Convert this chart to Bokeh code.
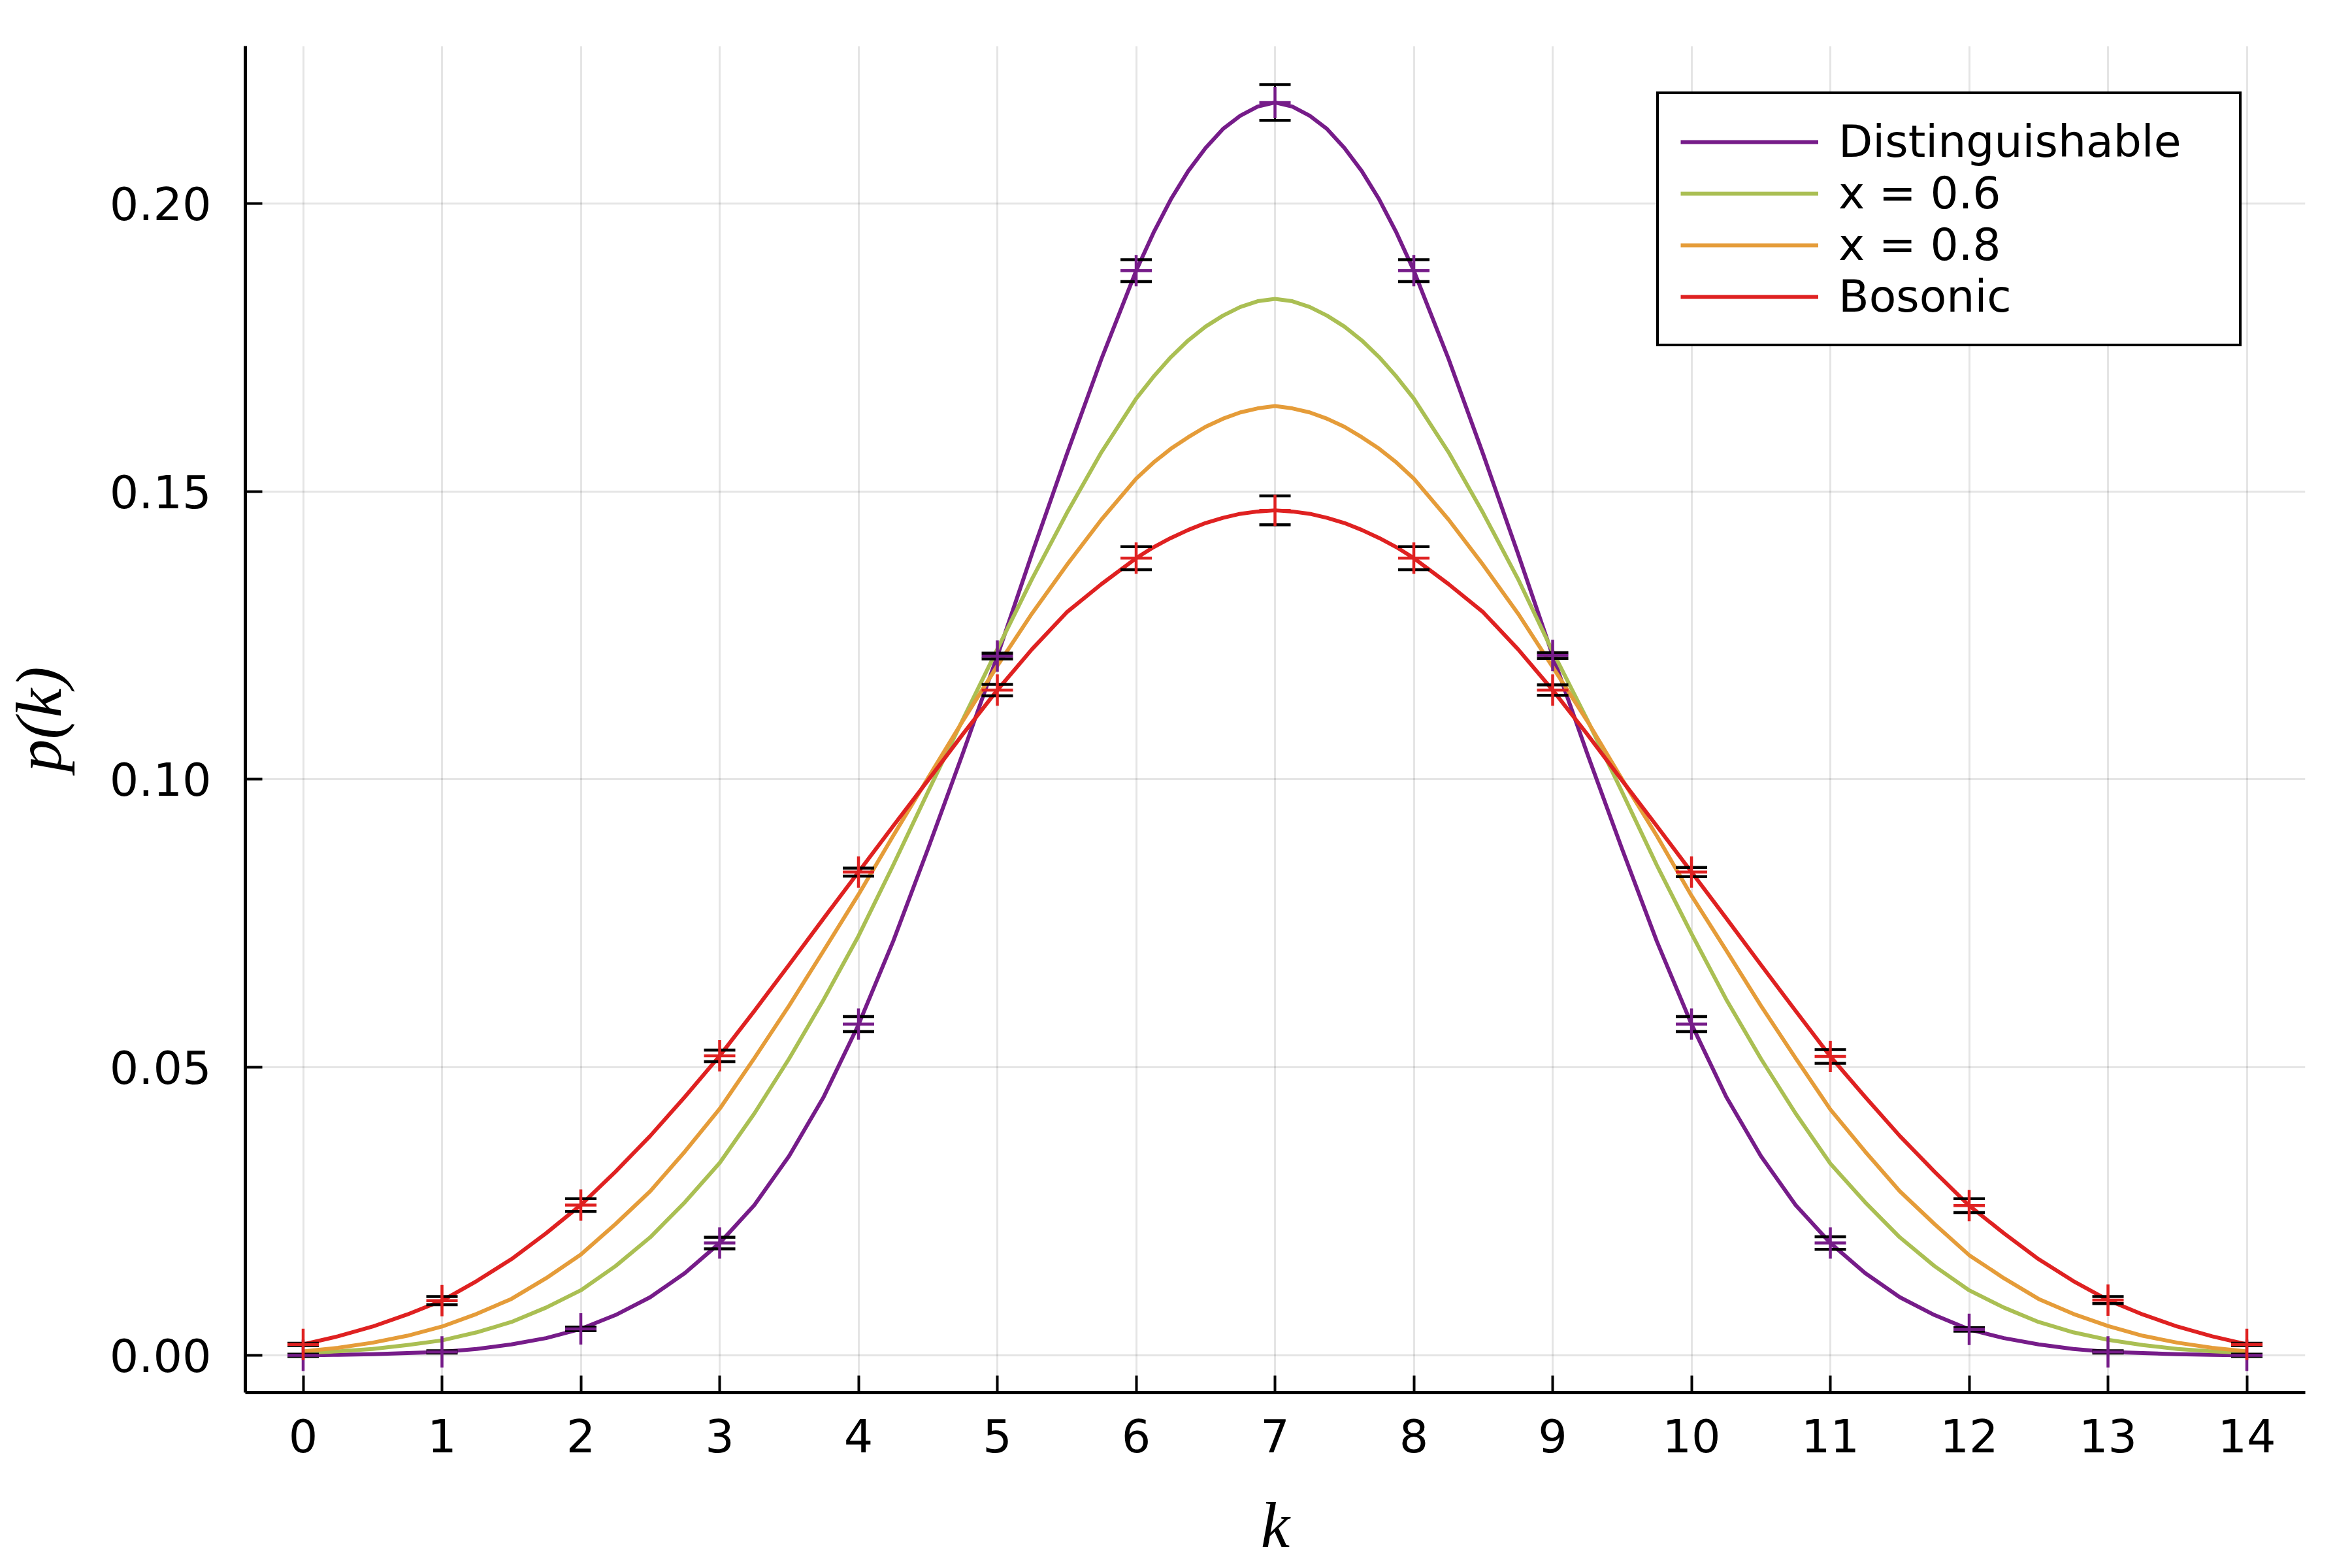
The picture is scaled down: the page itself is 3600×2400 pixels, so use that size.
from bokeh.plotting import figure
from bokeh.models import Range1d, FixedTicker, NumeralTickFormatter, Legend, LegendItem
from bokeh.embed import file_html
from bokeh.resources import INLINE

# ---- data ----
k_data = [0, 1, 2, 3, 4, 5, 6, 7, 8, 9, 10, 11, 12, 13, 14]
dist_vals = [0.0000, 0.0006, 0.0046, 0.0195, 0.0575, 0.1214, 0.1883, 0.2175,
             0.1883, 0.1215, 0.0575, 0.0195, 0.0045, 0.0006, 0.0000]
dist_err = [0.0002, 0.0002, 0.0003, 0.0010, 0.0013, 0.0005, 0.0019, 0.0031,
            0.0019, 0.0005, 0.0013, 0.0011, 0.0003, 0.0002, 0.0002]
bos_vals = [0.0019, 0.0095, 0.0261, 0.0520, 0.0839, 0.1155, 0.1384, 0.1467,
            0.1384, 0.1155, 0.0839, 0.0519, 0.0260, 0.0096, 0.0019]
bos_err = [0.0002, 0.0007, 0.0011, 0.0010, 0.0007, 0.0010, 0.0020, 0.0025,
           0.0020, 0.0009, 0.0008, 0.0012, 0.0012, 0.0006, 0.0002]

k_curve = [0.0, 0.25, 0.5, 0.75, 1.0, 1.25, 1.5, 1.75, 2.0, 2.25, 2.5, 2.75, 3.0,
           3.25, 3.5, 3.75, 4.0, 4.25, 4.5, 4.75, 5.0, 5.25, 5.5, 5.75,
           6.0, 6.125, 6.25, 6.375, 6.5, 6.625, 6.75, 6.875, 7.0,
           7.125, 7.25, 7.375, 7.5, 7.625, 7.75, 7.875, 8.0,
           8.25, 8.5, 8.75, 9.0, 9.25, 9.5, 9.75, 10.0, 10.25, 10.5, 10.75, 11.0,
           11.25, 11.5, 11.75, 12.0, 12.25, 12.5, 12.75, 13.0, 13.25, 13.5, 13.75, 14.0]
curve_dist = [0.0000, 0.0001, 0.0002, 0.0004, 0.0006, 0.0011, 0.0019, 0.0030, 0.0046,
              0.0070, 0.0101, 0.0143, 0.0195, 0.0261, 0.0346, 0.0449, 0.0574, 0.0719,
              0.0879, 0.1044, 0.1214, 0.1392, 0.1564, 0.1730,
              0.1883, 0.1949, 0.2007, 0.2056, 0.2096, 0.2129, 0.2152, 0.2168, 0.2175,
              0.2168, 0.2152, 0.2129, 0.2096, 0.2056, 0.2007, 0.1949, 0.1883,
              0.1730, 0.1564, 0.1392, 0.1215, 0.1044, 0.0879, 0.0719, 0.0575, 0.0449,
              0.0346, 0.0261, 0.0195, 0.0143, 0.0101, 0.0070, 0.0045, 0.0030, 0.0019,
              0.0011, 0.0006, 0.0004, 0.0002, 0.0001, 0.0000]
curve_x06 = [0.0004, 0.0007, 0.0011, 0.0018, 0.0026, 0.0040, 0.0058, 0.0083, 0.0113,
             0.0155, 0.0205, 0.0266, 0.0334, 0.0420, 0.0515, 0.0618, 0.0728, 0.0851,
             0.0978, 0.1103, 0.1226, 0.1348, 0.1462, 0.1568,
             0.1661, 0.1699, 0.1733, 0.1762, 0.1786, 0.1805, 0.1820, 0.1830, 0.1834,
             0.1830, 0.1820, 0.1805, 0.1786, 0.1762, 0.1733, 0.1699, 0.1661,
             0.1568, 0.1462, 0.1348, 0.1222, 0.1103, 0.0978, 0.0851, 0.0732, 0.0618,
             0.0515, 0.0420, 0.0333, 0.0266, 0.0205, 0.0155, 0.0113, 0.0083, 0.0058,
             0.0040, 0.0027, 0.0018, 0.0011, 0.0007, 0.0004]
curve_x08 = [0.0007, 0.0013, 0.0022, 0.0034, 0.0050, 0.0072, 0.0098, 0.0134, 0.0175,
             0.0228, 0.0285, 0.0354, 0.0428, 0.0516, 0.0607, 0.0703, 0.0800, 0.0902,
             0.1002, 0.1101, 0.1197, 0.1288, 0.1372, 0.1451,
             0.1522, 0.1550, 0.1574, 0.1594, 0.1612, 0.1626, 0.1637, 0.1644, 0.1648,
             0.1644, 0.1637, 0.1626, 0.1612, 0.1594, 0.1574, 0.1550, 0.1522,
             0.1451, 0.1372, 0.1288, 0.1195, 0.1101, 0.1000, 0.0902, 0.0798, 0.0703,
             0.0607, 0.0516, 0.0427, 0.0354, 0.0285, 0.0228, 0.0174, 0.0134, 0.0098,
             0.0072, 0.0051, 0.0034, 0.0022, 0.0013, 0.0007]
curve_bos = [0.0019, 0.0033, 0.0050, 0.0071, 0.0095, 0.0129, 0.0167, 0.0212, 0.0261,
             0.0319, 0.0381, 0.0449, 0.0520, 0.0598, 0.0678, 0.0759, 0.0839, 0.0919,
             0.0998, 0.1078, 0.1155, 0.1226, 0.1290, 0.1339,
             0.1384, 0.1403, 0.1419, 0.1433, 0.1445, 0.1454, 0.1461, 0.1465, 0.1467,
             0.1465, 0.1461, 0.1454, 0.1445, 0.1433, 0.1419, 0.1403, 0.1384,
             0.1339, 0.1290, 0.1226, 0.1155, 0.1078, 0.0998, 0.0919, 0.0839, 0.0759,
             0.0678, 0.0598, 0.0519, 0.0449, 0.0381, 0.0319, 0.0260, 0.0212, 0.0167,
             0.0129, 0.0096, 0.0071, 0.0050, 0.0033, 0.0019]

labels = ["Distinguishable", "x = 0.6", "x = 0.8", "Bosonic"]
colors = ["#761C89", "#AABF53", "#E59C39", "#DF2121"]
x_ticks = [0, 1, 2, 3, 4, 5, 6, 7, 8, 9, 10, 11, 12, 13, 14]
y_ticks = [0.0, 0.05, 0.10, 0.15, 0.20]

# ---- figure ----
p = figure(width=3590, height=2392, output_backend="svg", toolbar_location=None,
           x_range=Range1d(-0.4165, 14.421), y_range=Range1d(-0.00646, 0.2273),
           min_border_left=375, min_border_right=62, min_border_top=70,
           min_border_bottom=258)
p.outline_line_color = None
p.background_fill_color = "white"

p.xaxis.ticker = FixedTicker(ticks=x_ticks)
p.yaxis.ticker = FixedTicker(ticks=y_ticks)
p.yaxis.formatter = NumeralTickFormatter(format="0.00")
p.xaxis.axis_label = "k"
p.yaxis.axis_label = "p(k)"

for ax in (p.xaxis[0], p.yaxis[0]):
    ax.axis_line_width = 5
    ax.axis_line_color = "black"
    ax.major_tick_line_width = 4
    ax.major_tick_line_color = "black"
    ax.major_tick_in = 26
    ax.major_tick_out = 0
    ax.minor_tick_line_color = None
    ax.major_label_text_font = "DejaVu Sans"
    ax.major_label_text_font_size = "70px"
    ax.major_label_text_color = "black"
    ax.axis_label_text_font = "Liberation Serif"
    ax.axis_label_text_font_size = "100px"
    ax.axis_label_text_font_style = "italic"
    ax.axis_label_text_color = "black"
p.xaxis.major_label_standoff = 40
p.yaxis.major_label_standoff = 52
p.xaxis.axis_label_standoff = 53
p.yaxis.axis_label_standoff = 50

for g in (p.xgrid[0], p.ygrid[0]):
    g.grid_line_color = "black"
    g.grid_line_alpha = 0.1
    g.grid_line_width = 3

# ---- curves ----
renderers = []
for ys, c in zip([curve_dist, curve_x06, curve_x08, curve_bos], colors):
    renderers.append(p.line(k_curve, ys, line_color=c, line_width=6,
                            line_join="round"))

# ---- data points with error bars ----
for vals, errs, c in [(dist_vals, dist_err, colors[0]), (bos_vals, bos_err, colors[3])]:
    lo = [v - e for v, e in zip(vals, errs)]
    hi = [v + e for v, e in zip(vals, errs)]
    p.segment(x0=k_data, y0=lo, x1=k_data, y1=hi, line_color="black", line_width=3)
    p.scatter(k_data, lo, marker="dash", size=48, line_color="black", line_width=4.5)
    p.scatter(k_data, hi, marker="dash", size=48, line_color="black", line_width=4.5)
    p.scatter(k_data, vals, marker="cross", size=48, line_color=c, line_width=4.5)

legend = Legend(items=[LegendItem(label=l, renderers=[r]) for l, r in zip(labels, renderers)],
                location=(2160, 1601))
legend.label_text_font = "DejaVu Sans"
legend.label_text_font_size = "68px"
legend.label_text_color = "black"
legend.glyph_width = 211
legend.glyph_height = 78
legend.label_height = 78
legend.label_width = 580
legend.label_standoff = 31
legend.spacing = 0
legend.padding = 33
legend.margin = 0
legend.border_line_color = "black"
legend.border_line_width = 4
legend.border_line_alpha = 1.0
legend.background_fill_color = "white"
legend.background_fill_alpha = 1.0
p.add_layout(legend)

open("out.html", "w").write(file_html(p, INLINE))
